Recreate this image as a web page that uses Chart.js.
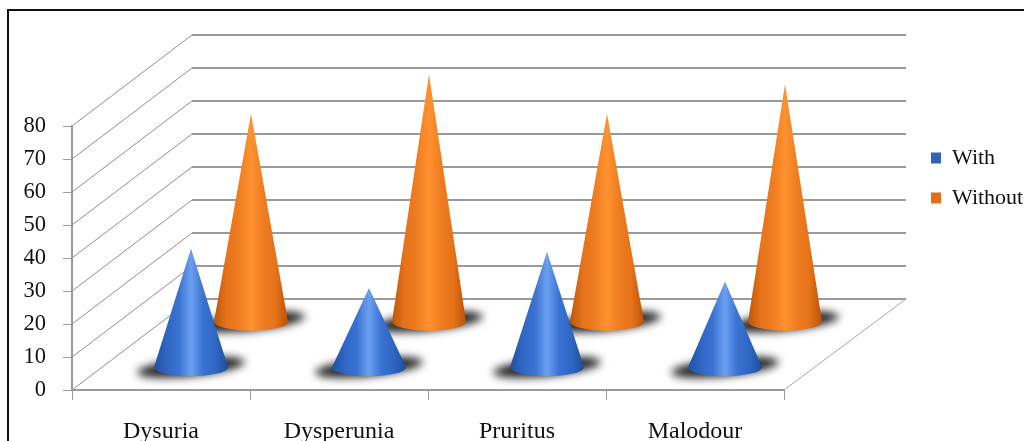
<!DOCTYPE html>
<html>
<head>
<meta charset="utf-8">
<title>Symptoms chart</title>
<script src="https://cdn.jsdelivr.net/npm/chart.js@4"></script>
<style>
    html, body { margin: 0; padding: 0; background: #fff; }
    /* the reference is a soft scan */
    canvas { display: block; filter: blur(0.5px); }
</style>
</head>
<body>
<canvas id="chart" width="1024" height="441"></canvas>
<script>
    // data
    const categories = ['Dysuria', 'Dysperunia', 'Pruritus', 'Malodour'];
    const withValues = [36, 24, 35, 26];
    const withoutValues = [63, 75, 63, 72];

    // 3D look: how far the back wall sits from the front axis
    const depthX = 120;
    const depthY = 91;
    const coneHalf = 37;
    const coneRy = 9;
    const lineGray = '#9a9a9a';

    // one entry per dataset: depth position and gradient colours
    const coneStyles = [
        { depth: 0.25, stops: ['#21509f', '#2f66c4', '#3a72d2', '#6a9ff0', '#3a72d2', '#2f66c4', '#1f4d9a'] },
        { depth: 0.75, stops: ['#bb5508', '#e6721a', '#ee7c20', '#ff9230', '#ee7c20', '#e6721a', '#b85206'] }
    ];

    function drawWalls(chart) {
        const ctx = chart.ctx;
        const xs = chart.scales.x;
        const ys = chart.scales.y;
        ctx.save();

        // frame of the picture
        ctx.strokeStyle = '#111';
        ctx.lineWidth = 2;
        ctx.beginPath();
        ctx.moveTo(8, 441);
        ctx.lineTo(8, 10);
        ctx.lineTo(1024, 10);
        ctx.stroke();

        ys.ticks.forEach(t => {
            const y = ys.getPixelForValue(t.value);
            // diagonal on the side wall
            ctx.strokeStyle = '#8e8e8e';
            ctx.lineWidth = 1;
            ctx.beginPath();
            ctx.moveTo(xs.left, y);
            ctx.lineTo(xs.left + depthX, y - depthY);
            ctx.stroke();
            // line on the back wall
            ctx.strokeStyle = lineGray;
            ctx.lineWidth = 2;
            ctx.beginPath();
            ctx.moveTo(xs.left + depthX, y - depthY);
            ctx.lineTo(xs.right + depthX + 2, y - depthY);
            ctx.stroke();
        });

        // right edge of the floor
        ctx.strokeStyle = '#a5a5a5';
        ctx.lineWidth = 1;
        ctx.beginPath();
        ctx.moveTo(xs.right, ys.bottom);
        ctx.lineTo(xs.right + depthX + 2, ys.bottom - depthY);
        ctx.stroke();
        ctx.restore();
    }

    function drawShadow(ctx, x, y) {
        ctx.save();
        ctx.filter = 'blur(4px)';
        ctx.fillStyle = 'rgba(25,25,25,0.95)';
        ctx.beginPath();
        ctx.ellipse(x, y, 54, coneRy, -0.1, 0, Math.PI * 2);
        ctx.fill();
        ctx.restore();
    }

    function drawCone(ctx, x, baseY, apexY, style) {
        const grad = ctx.createLinearGradient(x - coneHalf, 0, x + coneHalf, 0);
        style.stops.forEach((c, i) => grad.addColorStop(i / (style.stops.length - 1), c));
        ctx.save();
        ctx.fillStyle = grad;
        ctx.beginPath();
        ctx.moveTo(x, apexY);
        ctx.lineTo(x + coneHalf, baseY);
        ctx.ellipse(x, baseY, coneHalf, coneRy, 0, 0, Math.PI);
        ctx.closePath();
        ctx.fill();
        ctx.restore();
    }

    const conePlugin = {
        id: 'cones',
        afterLayout(chart) {
            // move the legend to the right of the back wall
            const legend = chart.legend;
            legend.left = 931 - legend.options.labels.padding;
            legend.right = 1024;
            legend.top = 147 - legend.options.labels.padding;
            legend.bottom = 441;
        },
        beforeDatasetsDraw(chart) {
            drawWalls(chart);
        },
        // the bars are replaced by cones
        beforeDatasetDraw() {
            return false;
        },
        afterDatasetsDraw(chart) {
            const ctx = chart.ctx;
            const xs = chart.scales.x;
            const ys = chart.scales.y;
            // back row first, the front row covers it
            for (let d = chart.data.datasets.length - 1; d >= 0; d--) {
                const style = coneStyles[d];
                const offX = depthX * style.depth;
                const offY = depthY * style.depth;
                chart.data.datasets[d].data.forEach((v, i) => {
                    const x = xs.getPixelForValue(i) + offX;
                    drawShadow(ctx, x, ys.getPixelForValue(0) - offY);
                    drawCone(ctx, x, ys.getPixelForValue(0) - offY, ys.getPixelForValue(v) - offY, style);
                });
            }
        }
    };

    new Chart(document.getElementById('chart'), {
        type: 'bar',
        data: {
            labels: categories,
            datasets: [
                { label: 'With', data: withValues, backgroundColor: '#2f63b8' },
                { label: 'Without', data: withoutValues, backgroundColor: '#e36c1d' }
            ]
        },
        options: {
            responsive: false,
            animation: false,
            layout: { padding: { top: 126, right: 240, left: 0, bottom: 0 } },
            scales: {
                x: {
                    afterFit(scale) { scale.height = 51; },
                    grid: { drawOnChartArea: false, color: lineGray, tickLength: 10, offset: true },
                    border: { color: lineGray, width: 2 },
                    ticks: { color: '#111', font: { family: '"Liberation Serif"', size: 24 }, padding: 17, autoSkip: false, maxRotation: 0 }
                },
                y: {
                    min: 0,
                    max: 80,
                    afterFit(scale) { scale.width = 72; },
                    grid: { drawOnChartArea: false, color: lineGray, tickLength: 9 },
                    border: { color: lineGray, width: 2 },
                    ticks: { stepSize: 10, color: '#111', font: { family: '"Liberation Serif"', size: 22.5 }, padding: 17 }
                }
            },
            plugins: {
                tooltip: { enabled: false },
                legend: {
                    position: 'chartArea',
                    align: 'start',
                    labels: { boxWidth: 10, boxHeight: 11, padding: 18, color: '#111', font: { family: '"Liberation Serif"', size: 22 } }
                }
            }
        },
        plugins: [conePlugin]
    });
</script>
</body>
</html>
